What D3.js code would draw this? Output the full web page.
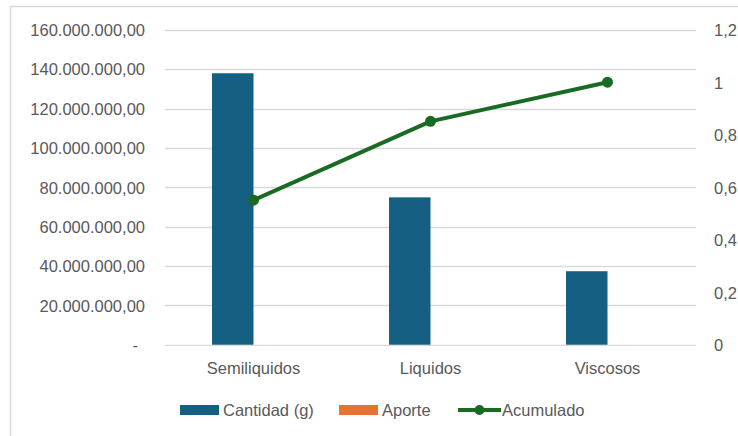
<!DOCTYPE html>
<html><head><meta charset="utf-8">
<script src="https://cdn.jsdelivr.net/npm/d3@7"></script>
<style>body{margin:0;background:#fff}svg{display:block}text{font-family:"Liberation Sans",Arial,sans-serif;fill:#595959}</style>
</head><body><svg id="c" width="738" height="436"></svg>
<script>
const categories = ["Semiliquidos", "Liquidos", "Viscosos"];
const cantidad = [137900000, 74900000, 37400000];
const aporte = [0.551, 0.299, 0.149];
const acumulado = [0.551, 0.851, 1];
const leftTicks = [0, 20000000, 40000000, 60000000, 80000000, 100000000, 120000000, 140000000, 160000000];
const rightTicks = [0, 0.2, 0.4, 0.6, 0.8, 1, 1.2];
const seriesNames = ["Cantidad (g)", "Aporte", "Acumulado"];
const colors = {"Cantidad (g)": "#156082", "Aporte": "#E97132", "Acumulado": "#196B24"};

const es = d3.formatLocale({decimal: ",", thousands: ".", grouping: [3], currency: ["", ""]});
const fmtL = v => v === 0 ? "-" : es.format(",.2f")(v);
const fmtR = v => es.format("~g")(v);
const FS = "16.5px";

const svg = d3.select("#c");
svg.append("rect").attr("x", 10.5).attr("y", 6.5).attr("width", 760).attr("height", 460)
  .attr("fill", "none").attr("stroke", "#d9d9d9").attr("stroke-width", 1.5);

const x0 = 165, x1 = 696, yTop = 29.7, yBot = 344.9;
const x = d3.scaleBand().domain(categories).range([x0, x1]);
const xs = d3.scaleBand().domain(["Cantidad (g)", "Aporte"]).range([-41.5, 41.5]);
const yL = d3.scaleLinear().domain([0, 160000000]).range([yBot, yTop]);
const yR = d3.scaleLinear().domain([0, 1.2]).range([yBot, yTop]);

// gridlines
svg.append("g").selectAll("line").data(leftTicks.slice(1)).join("line")
  .attr("x1", x0).attr("x2", x1).attr("y1", d => Math.round(yL(d)) + 0.5).attr("y2", d => Math.round(yL(d)) + 0.5)
  .attr("stroke", "#d9d9d9").attr("stroke-width", 1.3);

// left axis
const gl = svg.append("g").attr("transform", `translate(${145},0)`)
  .call(d3.axisLeft(yL).tickValues(leftTicks).tickFormat(fmtL).tickSize(0).tickPadding(0));
gl.select(".domain").remove();
gl.selectAll("text").style("font-size", FS).attr("fill", "#595959").attr("dy", "0.35em");
gl.selectAll(".tick").filter(d => d === 0).select("text").attr("dx", -7);

// right axis
const gr = svg.append("g").attr("transform", `translate(${714},0)`)
  .call(d3.axisRight(yR).tickValues(rightTicks).tickFormat(fmtR).tickSize(0).tickPadding(0));
gr.select(".domain").remove();
gr.selectAll("text").style("font-size", FS).attr("fill", "#595959").attr("dy", "0.35em");

// bars
const gb = svg.append("g");
gb.selectAll("rect.c").data(categories).join("rect").attr("class", "c")
  .attr("x", (d) => x(d) + x.bandwidth() / 2 + xs("Cantidad (g)"))
  .attr("width", xs.bandwidth())
  .attr("y", (d, i) => yL(cantidad[i]))
  .attr("height", (d, i) => yBot - yL(cantidad[i]))
  .attr("fill", colors["Cantidad (g)"]);
gb.selectAll("rect.a").data(categories).join("rect").attr("class", "a")
  .attr("x", (d) => x(d) + x.bandwidth() / 2 + xs("Aporte"))
  .attr("width", xs.bandwidth())
  .attr("y", (d, i) => yL(aporte[i]))
  .attr("height", (d, i) => yBot - yL(aporte[i]))
  .attr("fill", colors["Aporte"]);

// x axis
svg.append("line").attr("x1", x0).attr("x2", x1).attr("y1", yBot + 0.5).attr("y2", yBot + 0.5)
  .attr("stroke", "#d9d9d9").attr("stroke-width", 1.3);
const gx = svg.append("g").attr("transform", `translate(0,${yBot})`)
  .call(d3.axisBottom(x).tickSize(0).tickPadding(17));
gx.select(".domain").remove();
gx.selectAll("text").style("font-size", FS).attr("fill", "#595959");

// line
const pts = categories.map((c, i) => [x(c) + x.bandwidth() / 2, yR(acumulado[i])]);
svg.append("path").attr("d", d3.line()(pts)).attr("fill", "none")
  .attr("stroke", colors["Acumulado"]).attr("stroke-width", 4).attr("stroke-linejoin", "round");
svg.append("g").selectAll("circle").data(pts).join("circle")
  .attr("cx", d => d[0]).attr("cy", d => d[1]).attr("r", 5.5).attr("fill", colors["Acumulado"]);

// legend
const ly = 410;
const lg = svg.append("g");
const legendItems = [
  {name: seriesNames[0], sx: 180, tx: 223},
  {name: seriesNames[1], sx: 339, tx: 382},
  {name: seriesNames[2], sx: 458, tx: 502}
];
legendItems.forEach((it, i) => {
  if (i < 2) {
    lg.append("rect").attr("x", it.sx).attr("y", ly - 5).attr("width", 39).attr("height", 10).attr("fill", colors[it.name]);
  } else {
    lg.append("line").attr("x1", it.sx).attr("x2", it.sx + 43).attr("y1", ly).attr("y2", ly)
      .attr("stroke", colors[it.name]).attr("stroke-width", 4);
    lg.append("circle").attr("cx", it.sx + 21.5).attr("cy", ly).attr("r", 5).attr("fill", colors[it.name]);
  }
  lg.append("text").attr("x", it.tx).attr("y", ly).attr("dy", "0.35em").style("font-size", FS).text(it.name);
});
</script></body></html>
